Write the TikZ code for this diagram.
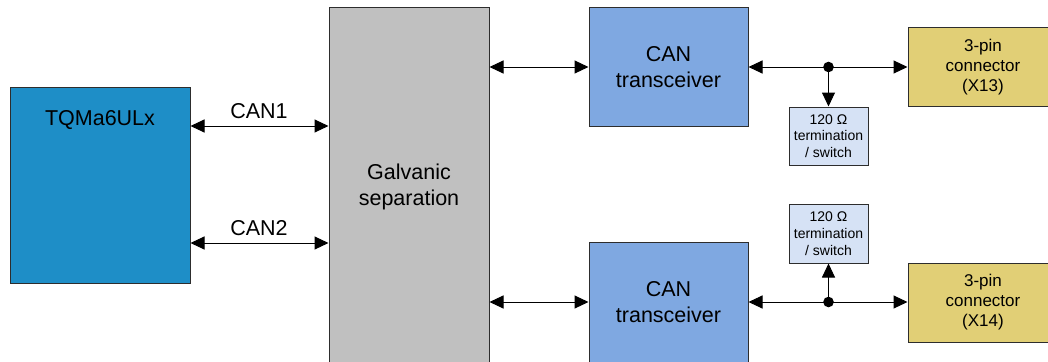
\documentclass[tikz,border=0pt]{standalone}
\usepackage{fontspec}
\setmainfont{Liberation Sans}
\usetikzlibrary{arrows.meta}
\definecolor{tqmblue}{RGB}{30,142,199}
\definecolor{galgray}{RGB}{192,192,192}
\definecolor{transblue}{RGB}{127,168,225}
\definecolor{termblue}{RGB}{214,226,245}
\definecolor{connyellow}{RGB}{225,207,118}
\definecolor{edgecol}{RGB}{45,45,45}
\begin{document}
\begin{tikzpicture}[x=1pt,y=-1pt,
  box/.style={draw=edgecol, line width=1pt, rectangle, inner sep=0pt, align=center},
  bigtxt/.style={font=\fontsize{21.5}{26}\selectfont, align=center},
  midtxt/.style={font=\fontsize{17}{20}\selectfont, align=center},
  smalltxt/.style={font=\fontsize{14}{16.7}\selectfont, align=center},
  link/.style={line width=1pt, {Triangle[length=14pt,width=13pt]}-{Triangle[length=14pt,width=13pt]}},
  oneway/.style={line width=1pt, -{Triangle[length=14pt,width=13pt]}},
  dotfill/.style={fill=black}]
\useasboundingbox (0,0) rectangle (1048,361);
\clip (0,0) rectangle (1048,361);
\fill[white] (0,0) rectangle (1048,361);

% blocks
\node[box, fill=tqmblue, minimum width=180pt, minimum height=196pt] (tqm) at (100,185) {};
\node[bigtxt] (tqmlabel) at (100,120) {TQMa6ULx};

\node[box, fill=galgray, minimum width=160pt, minimum height=358pt, bigtxt] (gal) at (409,187) {Galvanic\\separation};

\node[box, fill=transblue, minimum width=159pt, minimum height=118pt, bigtxt] (trans1) at (668.5,67) {CAN\\transceiver};
\node[box, fill=transblue, minimum width=159pt, minimum height=120pt, bigtxt] (trans2) at (668.5,302) {CAN\\transceiver};

\node[box, fill=termblue, minimum width=79pt, minimum height=58pt, smalltxt] (term1) at (828.5,136) {120 Ω\\termination\\/ switch};
\node[box, fill=termblue, minimum width=79pt, minimum height=59pt, smalltxt] (term2) at (828.5,233.5) {120 Ω\\termination\\/ switch};

\node[box, fill=connyellow, minimum width=150pt, minimum height=78pt, midtxt] (conn1) at (983,67) {3-pin\\connector\\(X13)};
\node[box, fill=connyellow, minimum width=150pt, minimum height=79pt, midtxt] (conn2) at (983,302.5) {3-pin\\connector\\(X14)};

% CAN links
\coordinate (ycan1) at (0,126);
\coordinate (ycan2) at (0,243);
\draw[link] (tqm.east |- ycan1) -- (gal.west |- ycan1);
\draw[link] (tqm.east |- ycan2) -- (gal.west |- ycan2);
\node[bigtxt] (lcan1) at (259,111) {CAN1};
\node[bigtxt] (lcan2) at (259,228) {CAN2};

% galvanic to transceivers
\draw[link] (gal.east |- trans1.west) -- (trans1.west);
\draw[link] (gal.east |- trans2.west) -- (trans2.west);

% transceivers to connectors
\coordinate (d1) at (term1.north |- trans1.east);
\coordinate (d2) at (term2.south |- trans2.east);
\draw[link] (trans1.east) -- (conn1.west |- trans1.east);
\draw[link] (trans2.east) -- (conn2.west |- trans2.east);
\draw[oneway] (d1) -- (term1.north);
\draw[oneway] (d2) -- (term2.south);
\fill[dotfill] (d1) circle (5.3pt);
\fill[dotfill] (d2) circle (5.3pt);
\end{tikzpicture}
\end{document}
